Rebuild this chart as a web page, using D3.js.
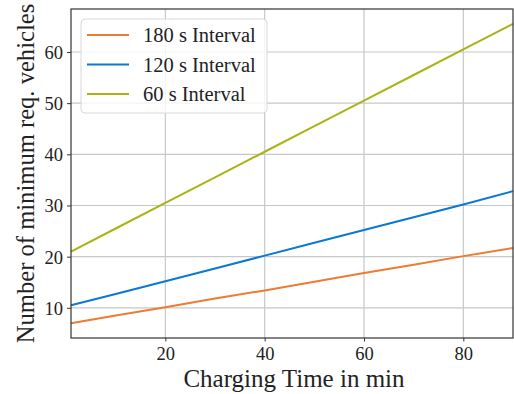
<!DOCTYPE html>
<html>
<head>
<meta charset="utf-8">
<script src="https://cdn.jsdelivr.net/npm/d3@7"></script>
<style>
  body { margin: 0; background: #fff; }
  svg text { font-family: "Liberation Serif", "DejaVu Serif", serif; fill: #222; }
</style>
</head>
<body>
<svg id="chart" width="514" height="394"></svg>
<script>
"use strict";

// charging time (min) at which values were read
const chargingTime = [1, 10, 20, 30, 40, 50, 60, 70, 80, 90];

// minimum required vehicles per departure interval
const interval180 = [7.0, 8.5, 10.1, 11.8, 13.4, 15.1, 16.8, 18.4, 20.1, 21.7];
const interval120 = [10.5, 12.7, 15.2, 17.7, 20.2, 22.7, 25.2, 27.7, 30.2, 32.8];
const interval60  = [21.0, 25.5, 30.5, 35.5, 40.5, 45.5, 50.5, 55.5, 60.5, 65.5];

const seriesNames = ["180 s Interval", "120 s Interval", "60 s Interval"];
const seriesColors = ["#ee7b30", "#0a78d4", "#a9b414"];

const xTicks = [20, 40, 60, 80];
const yTicks = [10, 20, 30, 40, 50, 60];

const series = [interval180, interval120, interval60].map((vals, i) => ({
  name: seriesNames[i],
  color: seriesColors[i],
  points: vals.map((v, j) => ({ x: chargingTime[j], y: v }))
}));

// plot area
let margin = { top: 9, right: 1, bottom: 56, left: 71 };
let svg = d3.select("#chart"),
    width = +svg.attr("width") - margin.left - margin.right,
    height = +svg.attr("height") - margin.top - margin.bottom;

let x = d3.scaleLinear().domain([1, 90]).range([0, width]);
let y = d3.scaleLinear().domain([4.1, 68.4]).range([height, 0]);

let g = svg.append("g").attr("transform", `translate(${margin.left},${margin.top})`);

// grid
g.append("g").selectAll("line").data(xTicks).enter().append("line")
  .attr("x1", d => x(d)).attr("x2", d => x(d))
  .attr("y1", 0).attr("y2", height)
  .attr("stroke", "#c8c8c8").attr("stroke-width", 1.2);
g.append("g").selectAll("line").data(yTicks).enter().append("line")
  .attr("x1", 0).attr("x2", width)
  .attr("y1", d => y(d)).attr("y2", d => y(d))
  .attr("stroke", "#c8c8c8").attr("stroke-width", 1.2);

// lines
let line = d3.line().x(d => x(d.x)).y(d => y(d.y));
g.selectAll(".series").data(series).enter().append("path")
  .attr("class", "series")
  .attr("d", d => line(d.points))
  .attr("fill", "none")
  .attr("stroke", d => d.color)
  .attr("stroke-width", 2);

// axes
let xAxis = g.append("g")
  .attr("transform", `translate(0,${height})`)
  .call(d3.axisBottom(x).tickValues(xTicks).tickSize(3.5).tickPadding(5));
let yAxis = g.append("g")
  .call(d3.axisLeft(y).tickValues(yTicks).tickSize(4).tickPadding(4));
[xAxis, yAxis].forEach(a => {
  a.select(".domain").remove();
  a.selectAll(".tick line").attr("stroke", "#333");
  a.selectAll(".tick text")
    .style("font-family", '"Liberation Serif", serif')
    .style("font-size", "18.5px").attr("fill", "#222");
});
yAxis.selectAll(".tick text").attr("dy", "0.35em");

// frame
g.append("rect")
  .attr("width", width).attr("height", height)
  .attr("fill", "none").attr("stroke", "#333").attr("stroke-width", 1.2);

// axis titles
svg.append("text")
  .attr("x", 294).attr("y", 386.5)
  .attr("text-anchor", "middle")
  .style("font-size", "25px")
  .text("Charging Time in min");

svg.append("text")
  .attr("transform", `translate(34,${173.5}) rotate(-90)`)
  .attr("text-anchor", "middle")
  .style("font-size", "24.6px")
  .text("Number of minimum req. vehicles");

// legend
let legend = svg.append("g").attr("transform", "translate(81,19)");
legend.append("rect")
  .attr("width", 186).attr("height", 94).attr("rx", 4)
  .attr("fill", "#fff").attr("fill-opacity", 0.8)
  .attr("stroke", "#d8d8d8").attr("stroke-width", 1);
let items = legend.selectAll(".item").data(series).enter().append("g")
  .attr("class", "item")
  .attr("transform", (d, i) => `translate(0,${16 + i * 29.5})`);
items.append("line")
  .attr("x1", 6).attr("x2", 48)
  .attr("stroke", d => d.color).attr("stroke-width", 2);
items.append("text")
  .attr("x", 62).attr("dy", "0.35em")
  .style("font-size", "20.5px")
  .text(d => d.name);
</script>
</body>
</html>
